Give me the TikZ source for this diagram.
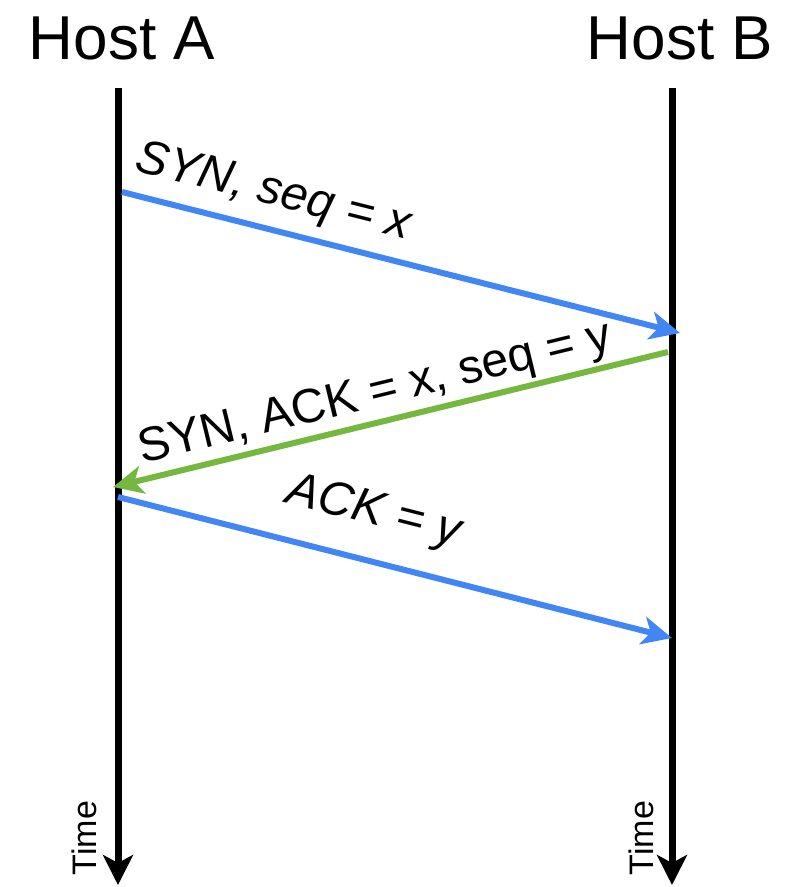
\documentclass[tikz,border=0pt]{standalone}
\usepackage{fontspec}
\setmainfont{Liberation Sans}
\usetikzlibrary{arrows.meta}
\definecolor{segblue}{RGB}{66,133,244}
\definecolor{seggreen}{RGB}{116,184,64}
\begin{document}
\begin{tikzpicture}[x=0.5pt,y=-0.5pt,
  host/.style={font=\fontsize{31pt}{36pt}\selectfont},
  timeline/.style={line width=3.5pt,-{Stealth[length=15pt,width=15pt,inset=4pt]}},
  timelabel/.style={rotate=90,font=\fontsize{17pt}{20pt}\selectfont},
  segment/.style={line width=3pt,-{Stealth[length=15pt,width=14pt,inset=4pt]}},
  seglabel/.style={sloped,inner sep=0pt,font=\fontsize{24pt}{28pt}\selectfont}]
\useasboundingbox (0,0) rectangle (789,887);

\node[host,anchor=base] (hostA) at (122,60) {Host A};
\node[host,anchor=base] (hostB) at (680,60) {Host B};

\coordinate (topA) at (118,88);
\coordinate (endA) at (118,885);
\coordinate (topB) at (672,88);
\coordinate (endB) at (672,885);
\draw[timeline] (topA) -- (endA);
\draw[timeline] (topB) -- (endB);
\node[timelabel] (timeA) at (84,838) {Time};
\node[timelabel] (timeB) at (641,838) {Time};

\coordinate (synA) at (122,192);
\coordinate (synB) at (680,333);
\coordinate (synackB) at (668,352);
\coordinate (synackA) at (113,487);
\coordinate (ackA) at (118,497);
\coordinate (ackB) at (672,638);

\draw[segment,segblue] (synA) -- node[seglabel,above=5.5pt,pos=0.255,text=black] (syn) {\itshape SYN, seq = x} (synB);
\draw[segment,seggreen] (synackB) -- node[seglabel,above=1.5pt,pos=0.515,text=black] (synack) {SYN, ACK = x, seq = y} (synackA);
\draw[segment,segblue] (ackA) -- node[seglabel,above=11.5pt,pos=0.44,text=black] (ack) {\itshape ACK = y} (ackB);
\end{tikzpicture}
\end{document}
